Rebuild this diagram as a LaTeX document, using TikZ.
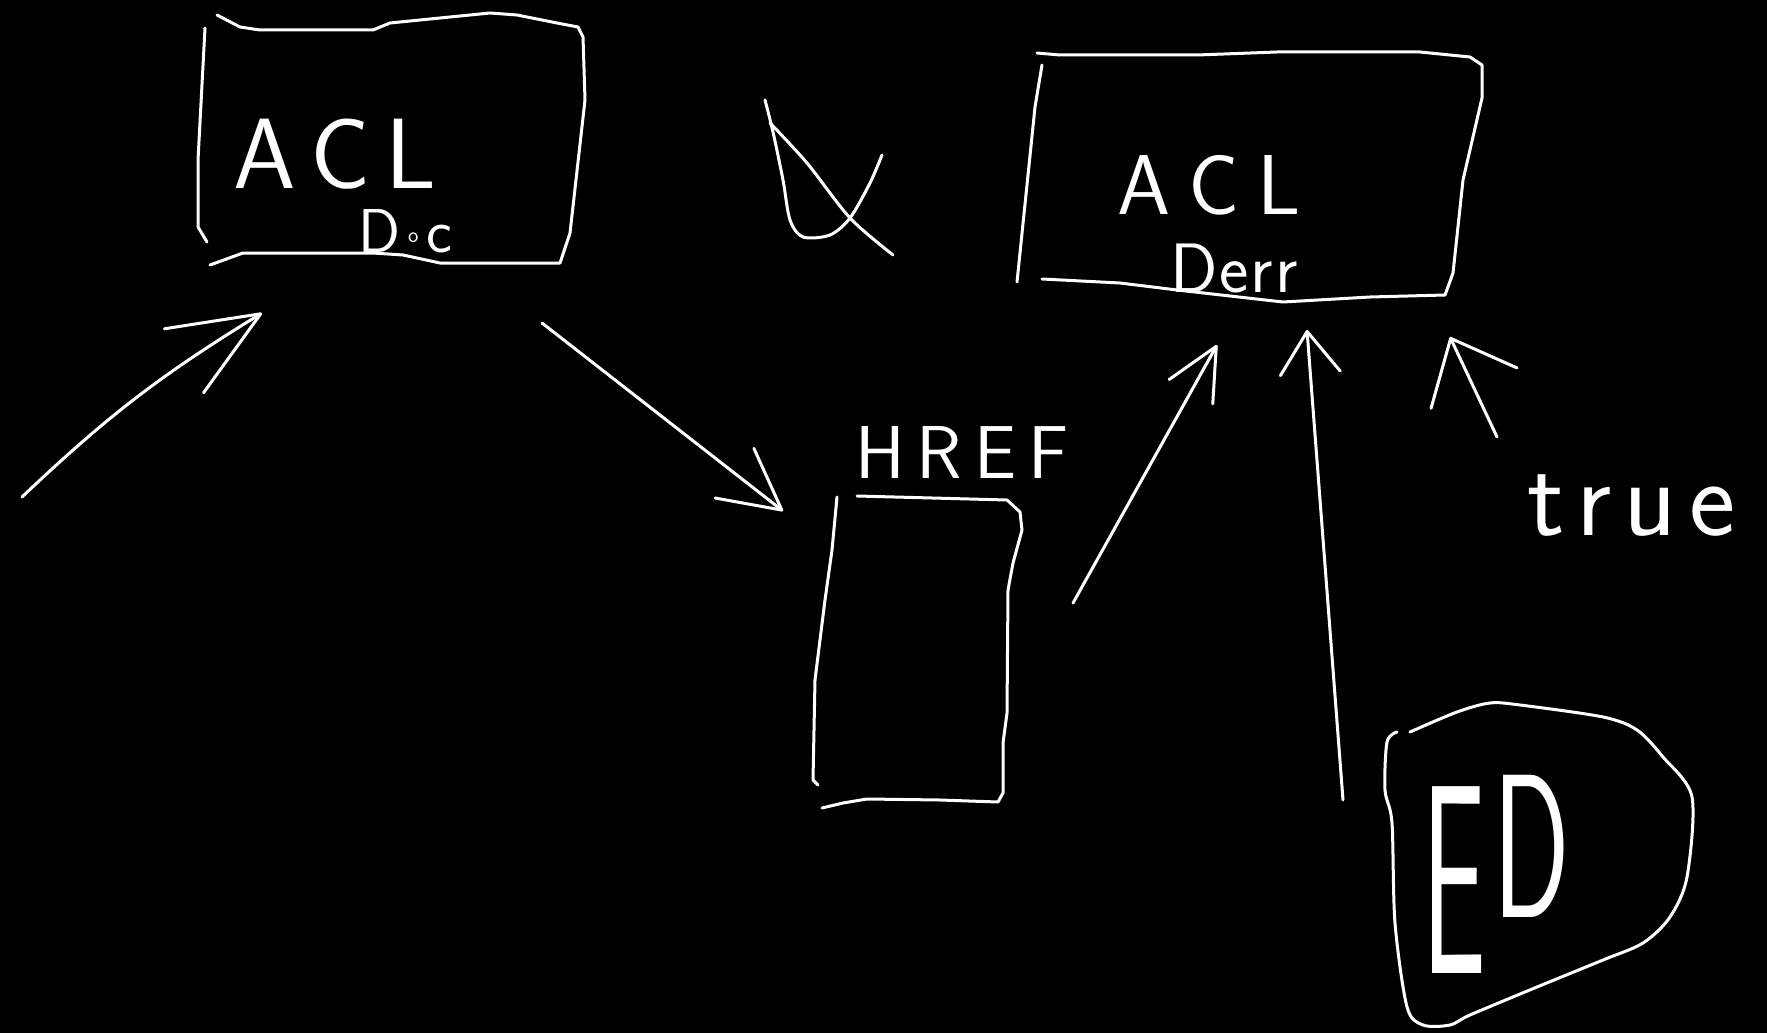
\documentclass[tikz,border=0pt]{standalone}
\usepackage{fontspec}
\usetikzlibrary{arrows.meta}
\begin{document}
\begin{tikzpicture}[x=1pt,y=-1pt,
  ink/.style={draw=white,line width=3pt,line cap=round,line join=round},
  lbl/.style={text=white,inner sep=0pt,anchor=base west}]
\fill[black] (0,0) rectangle (1767,1033);
\useasboundingbox (0,0) rectangle (1767,1033);

% ---- box ACL Doc
\draw[ink] (217,15) -- (240,27) -- (260,30) -- (373,30) -- (390,23) -- (490,13) -- (517,15) -- (557,23) -- (578,27) -- (583,37) -- (585,100) -- (570,233) -- (560,263) -- (440,263) -- (403,255) -- (373,253) -- (243,253) -- (210,265);
\draw[ink] (205,28) -- (198,160) -- (198,227) -- (207,242);
\node[lbl,text depth=0pt,font=\sffamily\fontsize{100}{100}\selectfont] (acl1) at (233,188) {A\kern15pt C\kern15pt L};
\node[lbl,font=\sffamily\fontsize{62}{62}\selectfont] (doc) at (358,252) {D\kern8pt\raisebox{10pt}{\fontsize{22}{22}\selectfont o}\kern8pt c};

% ---- alpha sign
\draw[ink] plot[smooth] coordinates {(765,100) (773,132) (783,180) (790,220) (803,237) (830,235) (850,218) (870,183) (882,155)};
\draw[ink] plot[smooth] coordinates {(770,123) (807,163) (850,218) (893,255)};

% ---- box ACL Derr
\draw[ink] (1037,53) -- (1060,55) -- (1197,55) -- (1277,52) -- (1420,52) -- (1470,57) -- (1482,65) -- (1482,98) -- (1463,180) -- (1453,273) -- (1445,295) -- (1370,297) -- (1283,302) -- (1177,290) -- (1120,283) -- (1042,279);
\draw[ink] (1042,65) -- (1035,107) -- (1017,282);
\node[lbl,text depth=0pt,font=\sffamily\fontsize{85}{85}\selectfont] (acl2) at (1117,214) {A\kern18pt C\kern18pt L};
\node[lbl,text height=48pt,font=\sffamily\fontsize{70}{70}\selectfont] (derr) at (1170,292) {D\kern2pt e\kern2pt r\kern2pt r};

% ---- HREF box
\node[lbl,font=\sffamily\fontsize{75}{75}\selectfont] (href) at (855,478) {H\kern12pt R\kern12pt E\kern12pt F};
\draw[ink] (857,496) -- (1007,500) -- (1020,512) -- (1022,530) -- (1013,563) -- (1008,590) -- (1007,713) -- (1003,743) -- (1003,793) -- (998,802) -- (940,800) -- (867,799) -- (843,803) -- (822,808);
\draw[ink] (837,497) -- (832,550) -- (825,600) -- (815,680) -- (813,780) -- (818,785);

% ---- true
\node[lbl,font=\sffamily\fontsize{110}{110}\selectfont] (true) at (1527,535) {t\kern12pt r\kern12pt u\kern12pt e};

% ---- ED blob
\draw[ink] plot[smooth] coordinates {(1397,732) (1387,742) (1385,790) (1392,823) (1395,923) (1407,1007) (1423,1025) (1450,1025) (1470,1015) (1537,987) (1603,960) (1643,943) (1670,917) (1687,877) (1692,797) (1663,757) (1637,730) (1603,717) (1520,705) (1490,703) (1457,712) (1410,732)};
\node[lbl] (ed) at (1422,973) {{\sffamily\fontsize{270}{270}\selectfont\scalebox{0.42}[1]{E}}\kern8pt\raisebox{56pt}{\sffamily\fontsize{205}{205}\selectfont\scalebox{0.55}[1]{D}}};

% ---- arrows
\coordinate (a1s) at (22,497);   \coordinate (a1e) at (262,313);
\coordinate (a2s) at (542,323);  \coordinate (a2e) at (783,511);
\coordinate (a3s) at (1073,603); \coordinate (a3e) at (1217,345);
\coordinate (a4s) at (1343,800); \coordinate (a4e) at (1307,330);
\coordinate (a5s) at (1497,437); \coordinate (a5e) at (1450,337);
\draw[ink,-{Straight Barb[length=90pt,width=75pt,round]}] (a1s) to[bend left=6] (a1e);
\draw[ink,-{Straight Barb[length=60pt,width=63pt,round]}] (a2s) -- (a2e);
\draw[ink,-{Straight Barb[length=52pt,width=50pt,round]}] (a3s) -- (a3e);
\draw[ink,-{Straight Barb[length=42pt,width=60pt,round]}] (a4s) -- (a4e);
\draw[ink,-{Straight Barb[length=55pt,width=95pt,round]}] (a5s) -- (a5e);
\end{tikzpicture}
\end{document}
